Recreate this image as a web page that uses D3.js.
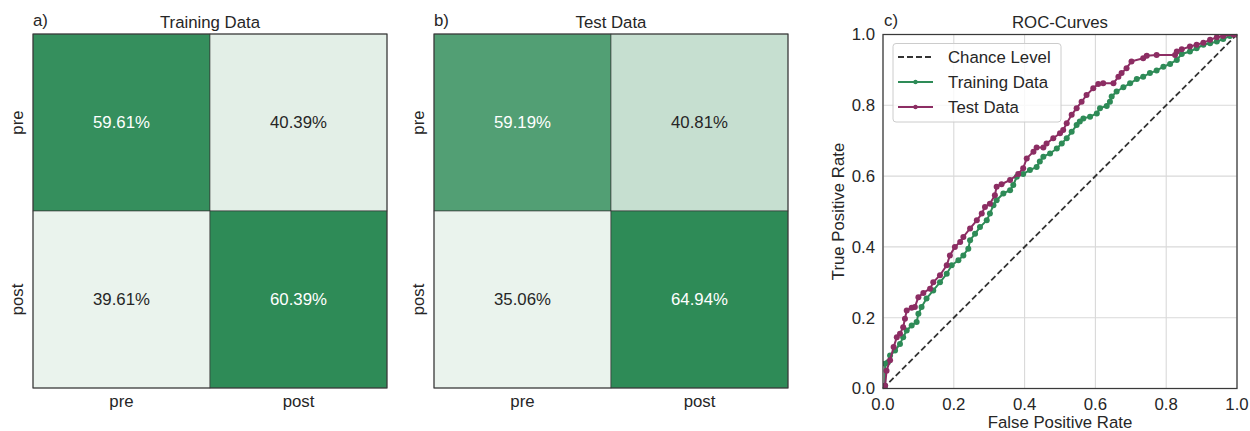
<!DOCTYPE html>
<html>
<head>
<meta charset="utf-8">
<script src="https://cdn.jsdelivr.net/npm/d3@7"></script>
<style>
  html, body { margin: 0; padding: 0; background: #fff; }
  svg { display: block; font-family: "Liberation Sans", Arial, sans-serif; }
</style>
</head>
<body>
<svg id="chart" width="1250" height="431"></svg>
<script>
// confusion matrices (row = true, col = predicted), values in %
const rowLabels = ['pre', 'post'];
const colLabels = ['pre', 'post'];
const trainMatrix = [[59.61, 40.39], [39.61, 60.39]];
const testMatrix = [[59.19, 40.81], [35.06, 64.94]];

// ROC curve points
const trainFpr = [0, 0.006, 0.006, 0.014, 0.02, 0.034, 0.048, 0.057, 0.067, 0.081, 0.095, 0.1, 0.109, 0.123, 0.142, 0.161, 0.18, 0.194, 0.213, 0.227, 0.241, 0.246, 0.26, 0.274, 0.293, 0.302, 0.312, 0.321, 0.34, 0.359, 0.368, 0.378, 0.396, 0.415, 0.434, 0.443, 0.453, 0.472, 0.491, 0.505, 0.519, 0.533, 0.547, 0.556, 0.566, 0.585, 0.604, 0.613, 0.632, 0.641, 0.646, 0.66, 0.679, 0.698, 0.717, 0.735, 0.754, 0.773, 0.792, 0.811, 0.83, 0.844, 0.867, 0.886, 0.905, 0.924, 0.943, 0.961, 0.98, 1];
const trainTpr = [0, 0.008, 0.07, 0.074, 0.093, 0.107, 0.126, 0.145, 0.164, 0.178, 0.188, 0.211, 0.23, 0.254, 0.277, 0.3, 0.324, 0.348, 0.362, 0.376, 0.395, 0.419, 0.437, 0.456, 0.475, 0.494, 0.518, 0.532, 0.551, 0.56, 0.575, 0.598, 0.606, 0.617, 0.626, 0.641, 0.655, 0.664, 0.678, 0.692, 0.707, 0.725, 0.744, 0.754, 0.763, 0.768, 0.777, 0.792, 0.798, 0.81, 0.825, 0.839, 0.851, 0.862, 0.874, 0.881, 0.891, 0.898, 0.909, 0.917, 0.928, 0.945, 0.952, 0.961, 0.971, 0.975, 0.98, 0.987, 0.996, 1];
const testFpr = [0, 0.006, 0.01, 0.02, 0.03, 0.039, 0.048, 0.057, 0.062, 0.067, 0.081, 0.09, 0.1, 0.114, 0.133, 0.142, 0.161, 0.18, 0.189, 0.203, 0.218, 0.227, 0.246, 0.265, 0.279, 0.288, 0.302, 0.316, 0.321, 0.335, 0.359, 0.382, 0.396, 0.406, 0.425, 0.434, 0.453, 0.462, 0.481, 0.5, 0.509, 0.519, 0.533, 0.547, 0.561, 0.575, 0.594, 0.608, 0.622, 0.651, 0.665, 0.674, 0.688, 0.702, 0.735, 0.745, 0.773, 0.825, 0.83, 0.844, 0.867, 0.886, 0.905, 0.924, 0.943, 0.961, 0.99, 1];
const testTpr = [0, 0.008, 0.05, 0.08, 0.117, 0.145, 0.155, 0.173, 0.197, 0.22, 0.228, 0.23, 0.258, 0.27, 0.282, 0.3, 0.32, 0.348, 0.376, 0.4, 0.414, 0.428, 0.452, 0.475, 0.494, 0.513, 0.522, 0.546, 0.57, 0.577, 0.589, 0.606, 0.622, 0.65, 0.669, 0.681, 0.681, 0.692, 0.707, 0.721, 0.73, 0.749, 0.773, 0.792, 0.81, 0.829, 0.848, 0.86, 0.862, 0.862, 0.881, 0.891, 0.905, 0.924, 0.933, 0.94, 0.942, 0.942, 0.952, 0.958, 0.966, 0.971, 0.977, 0.985, 0.992, 0.996, 1, 1];
const rocTicks = [0, 0.2, 0.4, 0.6, 0.8, 1.0];

const textColor = '#262626';
const fontSize = '16.8px';
const green = '#2e8b57';
const purple = '#8c2d63';

const svg = d3.select('#chart');

function drawHeatmap(left, matrix, title, letter) {
  const top = 34, size = 354;
  const x = d3.scaleBand().domain(colLabels).range([left, left + size]);
  const y = d3.scaleBand().domain(rowLabels).range([top, top + size]);
  const flat = matrix.flat();
  const color = d3.scaleLinear()
    .domain([d3.min(flat), d3.max(flat)])
    .range(['#eaf3ed', green]);
  const norm = d3.scaleLinear().domain([d3.min(flat), d3.max(flat)]).range([0, 1]);

  const g = svg.append('g');
  const cells = [];
  matrix.forEach((row, i) => row.forEach((v, j) => cells.push({ r: rowLabels[i], c: colLabels[j], v })));

  g.selectAll('rect.cell')
    .data(cells)
    .enter().append('rect')
    .attr('class', 'cell')
    .attr('x', d => x(d.c))
    .attr('y', d => y(d.r))
    .attr('width', x.bandwidth())
    .attr('height', y.bandwidth())
    .attr('fill', d => color(d.v))
    .attr('stroke', '#333')
    .attr('stroke-width', 0.6);

  g.selectAll('text.val')
    .data(cells)
    .enter().append('text')
    .attr('x', d => x(d.c) + x.bandwidth() / 2)
    .attr('y', d => y(d.r) + y.bandwidth() / 2)
    .attr('dy', '0.35em')
    .attr('text-anchor', 'middle')
    .attr('font-size', fontSize)
    .attr('fill', d => norm(d.v) > 0.5 ? '#ffffff' : textColor)
    .text(d => d.v.toFixed(2) + '%');

  // frame
  g.append('rect')
    .attr('x', left).attr('y', top)
    .attr('width', size).attr('height', size)
    .attr('fill', 'none')
    .attr('stroke', '#3a3a3a')
    .attr('stroke-width', 1);

  // tick labels
  g.selectAll('text.xt')
    .data(colLabels)
    .enter().append('text')
    .attr('x', d => x(d) + x.bandwidth() / 2)
    .attr('y', top + size + 19)
    .attr('text-anchor', 'middle')
    .attr('font-size', fontSize)
    .attr('fill', textColor)
    .text(d => d);

  g.selectAll('text.yt')
    .data(rowLabels)
    .enter().append('text')
    .attr('transform', d => `translate(${left - 10},${y(d) + y.bandwidth() / 2}) rotate(-90)`)
    .attr('text-anchor', 'middle')
    .attr('font-size', fontSize)
    .attr('fill', textColor)
    .text(d => d);

  g.append('text')
    .attr('x', left + size / 2)
    .attr('y', 27.5)
    .attr('text-anchor', 'middle')
    .attr('font-size', fontSize)
    .attr('fill', textColor)
    .text(title);

  g.append('text')
    .attr('x', left)
    .attr('y', 25.5)
    .attr('font-size', fontSize)
    .attr('fill', textColor)
    .text(letter);
}

drawHeatmap(33, trainMatrix, 'Training Data', 'a)');
drawHeatmap(434, testMatrix, 'Test Data', 'b)');

// ROC panel
const rLeft = 883, rTop = 34.5, rSize = 354;
const xR = d3.scaleLinear().domain([0, 1]).range([rLeft, rLeft + rSize]);
const yR = d3.scaleLinear().domain([0, 1]).range([rTop + rSize, rTop]);
const roc = svg.append('g');

roc.append('g')
  .selectAll('line.gx')
  .data(rocTicks)
  .enter().append('line')
  .attr('x1', d => xR(d)).attr('x2', d => xR(d))
  .attr('y1', rTop).attr('y2', rTop + rSize)
  .attr('stroke', '#d9d9d9').attr('stroke-width', 1.1);

roc.append('g')
  .selectAll('line.gy')
  .data(rocTicks)
  .enter().append('line')
  .attr('y1', d => yR(d)).attr('y2', d => yR(d))
  .attr('x1', rLeft).attr('x2', rLeft + rSize)
  .attr('stroke', '#d9d9d9').attr('stroke-width', 1.1);

roc.append('clipPath').attr('id', 'rocclip')
  .append('rect').attr('x', rLeft).attr('y', rTop).attr('width', rSize).attr('height', rSize);

// chance level
roc.append('line')
  .attr('x1', xR(0)).attr('y1', yR(0))
  .attr('x2', xR(1)).attr('y2', yR(1))
  .attr('stroke', '#333')
  .attr('stroke-width', 1.8)
  .attr('stroke-dasharray', '6,3');

const lineGen = d3.line().x(d => xR(d[0])).y(d => yR(d[1]));

function drawCurve(fpr, tpr, col) {
  const pts = d3.zip(fpr, tpr);
  const cg = roc.append('g').attr('clip-path', 'url(#rocclip)');
  cg.append('path')
    .datum(pts)
    .attr('d', lineGen)
    .attr('fill', 'none')
    .attr('stroke', col)
    .attr('stroke-width', 2);
  cg.selectAll('circle')
    .data(pts)
    .enter().append('circle')
    .attr('cx', d => xR(d[0]))
    .attr('cy', d => yR(d[1]))
    .attr('r', 3)
    .attr('fill', col);
}

drawCurve(trainFpr, trainTpr, green);
drawCurve(testFpr, testTpr, purple);

// frame
roc.append('rect')
  .attr('x', rLeft).attr('y', rTop)
  .attr('width', rSize).attr('height', rSize)
  .attr('fill', 'none')
  .attr('stroke', '#3a3a3a')
  .attr('stroke-width', 1.25);

roc.selectAll('text.xtick')
  .data(rocTicks)
  .enter().append('text')
  .attr('x', d => xR(d))
  .attr('y', rTop + rSize + 21)
  .attr('text-anchor', 'middle')
  .attr('font-size', fontSize)
  .attr('fill', textColor)
  .text(d => d.toFixed(1));

roc.selectAll('text.ytick')
  .data(rocTicks)
  .enter().append('text')
  .attr('x', rLeft - 8)
  .attr('y', d => yR(d))
  .attr('dy', '0.35em')
  .attr('text-anchor', 'end')
  .attr('font-size', fontSize)
  .attr('fill', textColor)
  .text(d => d.toFixed(1));

roc.append('text')
  .attr('x', rLeft + rSize / 2)
  .attr('y', 428)
  .attr('text-anchor', 'middle')
  .attr('font-size', fontSize)
  .attr('fill', textColor)
  .text('False Positive Rate');

roc.append('text')
  .attr('transform', `translate(844,${rTop + rSize / 2}) rotate(-90)`)
  .attr('text-anchor', 'middle')
  .attr('font-size', fontSize)
  .attr('fill', textColor)
  .text('True Positive Rate');

roc.append('text')
  .attr('x', rLeft + rSize / 2)
  .attr('y', 27.5)
  .attr('text-anchor', 'middle')
  .attr('font-size', fontSize)
  .attr('fill', textColor)
  .text('ROC-Curves');

roc.append('text')
  .attr('x', rLeft + 1)
  .attr('y', 25.5)
  .attr('font-size', fontSize)
  .attr('fill', textColor)
  .text('c)');

// legend
const legendItems = [
  { label: 'Chance Level', color: '#333', dash: '6,3', marker: false },
  { label: 'Training Data', color: green, dash: null, marker: true },
  { label: 'Test Data', color: purple, dash: null, marker: true }
];
const lg = roc.append('g');
lg.append('rect')
  .attr('x', 893).attr('y', 43.5)
  .attr('width', 168).attr('height', 78.5)
  .attr('rx', 3)
  .attr('fill', 'rgba(255,255,255,0.8)')
  .attr('stroke', '#cccccc')
  .attr('stroke-width', 1);

const li = lg.selectAll('g.item')
  .data(legendItems)
  .enter().append('g')
  .attr('transform', (d, i) => `translate(0,${57 + i * 25})`);

li.append('line')
  .attr('x1', 898).attr('x2', 933)
  .attr('y1', 0).attr('y2', 0)
  .attr('stroke', d => d.color)
  .attr('stroke-width', 1.8)
  .attr('stroke-dasharray', d => d.dash);

li.filter(d => d.marker).append('circle')
  .attr('cx', 915.5).attr('cy', 0).attr('r', 2.2)
  .attr('fill', d => d.color);

li.append('text')
  .attr('x', 948)
  .attr('y', 0)
  .attr('dy', '0.35em')
  .attr('font-size', fontSize)
  .attr('fill', textColor)
  .text(d => d.label);
</script>
</body>
</html>
